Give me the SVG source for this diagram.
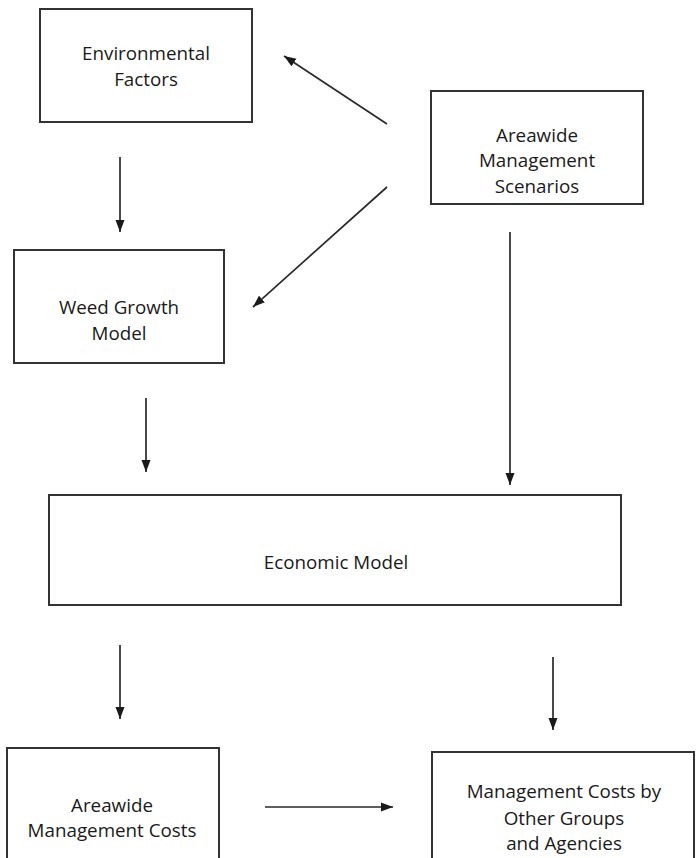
<svg xmlns="http://www.w3.org/2000/svg" width="696" height="858" viewBox="0 0 696 858">
<style>
.box{fill:#fff;stroke:#333;stroke-width:2}
.lbl{font-family:"Open Sans","Liberation Sans",sans-serif;font-size:18.8px;fill:#1a1a1a;text-anchor:middle}
.conn line{stroke:#2a2a2a;stroke-width:1.7;marker-end:url(#ah)}
</style>
<defs>
<marker id="ah" markerUnits="userSpaceOnUse" markerWidth="12" markerHeight="12" viewBox="0 0 12 12" refX="12" refY="6" orient="auto">
<path d="M0,1.5 L12,6 L0,10.5 z" fill="#1a1a1a"/>
</marker>
</defs>
<rect width="696" height="858" fill="#fff"/>
<g id="env">
<rect class="box" x="40" y="9" width="212" height="113"/>
<text class="lbl" x="146" y="60">Environmental</text>
<text class="lbl" x="146" y="86">Factors</text>
</g>
<g id="scen">
<rect class="box" x="431" y="91" width="212" height="113"/>
<text class="lbl" x="537" y="142">Areawide</text>
<text class="lbl" x="537" y="167">Management</text>
<text class="lbl" x="537" y="193">Scenarios</text>
</g>
<g id="weed">
<rect class="box" x="14" y="250" width="210" height="113"/>
<text class="lbl" x="119" y="314">Weed Growth</text>
<text class="lbl" x="119" y="340">Model</text>
</g>
<g id="econ">
<rect class="box" x="49" y="495" width="572" height="110"/>
<text class="lbl" x="336" y="569">Economic Model</text>
</g>
<g id="areacosts">
<rect class="box" x="7" y="748" width="212" height="130"/>
<text class="lbl" x="112" y="812">Areawide</text>
<text class="lbl" x="112" y="837">Management Costs</text>
</g>
<g id="othercosts">
<rect class="box" x="432" y="752" width="262" height="130"/>
<text class="lbl" x="564" y="798">Management Costs by</text>
<text class="lbl" x="564" y="825">Other Groups</text>
<text class="lbl" x="564" y="850">and Agencies</text>
</g>
<g id="connectors" class="conn">
<line x1="120" y1="157" x2="120" y2="232"/>
<line x1="387" y1="124" x2="284" y2="56"/>
<line x1="387" y1="187" x2="253" y2="307"/>
<line x1="510" y1="232" x2="510" y2="485"/>
<line x1="146" y1="398" x2="146" y2="472"/>
<line x1="120" y1="645" x2="120" y2="719"/>
<line x1="553" y1="657" x2="553" y2="730"/>
<line x1="265" y1="807" x2="393" y2="807"/>
</g>
</svg>
